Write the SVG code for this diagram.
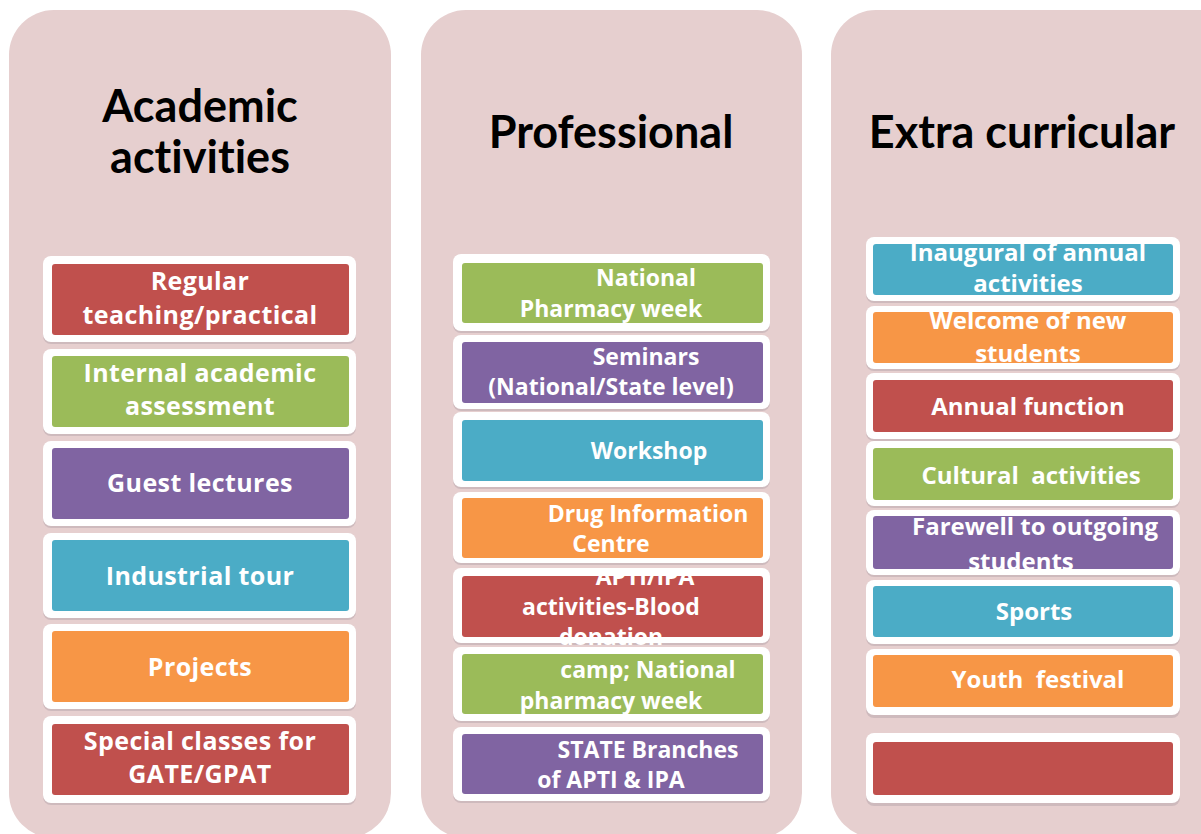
<svg xmlns="http://www.w3.org/2000/svg" width="1201" height="834" viewBox="0 0 1201 834">
<style>
.col{fill:#E6CFCF}
.sh{fill:#B9A9AE;opacity:0.55}
.wb{fill:#FFFFFF}
.red{fill:#C0504D}.grn{fill:#9BBB59}.pur{fill:#8064A2}.blu{fill:#4BACC6}.org{fill:#F79646}
.hd{font-family:Lato,"Open Sans",sans-serif;font-weight:bold;font-size:45px;fill:#000;text-anchor:middle;font-variant-ligatures:none}
.t{font-family:"Open Sans",Lato,sans-serif;font-weight:bold;font-size:25px;letter-spacing:0.4px;fill:#FFFFFF;text-anchor:middle}
.t2{font-family:"Open Sans",Lato,sans-serif;font-weight:bold;font-size:23px;fill:#FFFFFF;text-anchor:middle}
.t3{font-family:"Open Sans",Lato,sans-serif;font-weight:bold;font-size:24px;fill:#FFFFFF;text-anchor:middle}
</style>
<defs>
<clipPath id="cApti"><rect x="455" y="571" width="320" height="80"/></clipPath>
<clipPath id="cFare"><rect x="865" y="505" width="320" height="66"/></clipPath>
</defs>
<rect width="1201" height="834" fill="#FFFFFF"/>
<g id="col-academic">
<rect class="col" x="9" y="10" width="382" height="828" rx="45"/>
<text class="hd" x="200" y="122">Academic</text>
<text class="hd" x="200" y="173">activities</text>
</g>
<g id="col-professional">
<rect class="col" x="421" y="10" width="381" height="828" rx="45"/>
<text class="hd" x="611" y="148">Professional</text>
</g>
<g id="col-extra">
<rect class="col" x="831" y="10" width="420" height="828" rx="45"/>
<text class="hd" x="1022" y="148">Extra curricular</text>
</g>

<g id="a1"><rect class="sh" x="43" y="259" width="313" height="85" rx="8"/><rect class="wb" x="43" y="256" width="313" height="86" rx="8"/><rect class="red" x="52" y="264" width="297" height="71" rx="3"/>
<text class="t" x="200" y="290">Regular</text><text class="t" x="200" y="324">teaching/practical</text></g>
<g id="a2"><rect class="sh" x="43" y="351" width="313" height="85" rx="8"/><rect class="wb" x="43" y="349" width="313" height="85" rx="8"/><rect class="grn" x="52" y="356" width="297" height="71" rx="3"/>
<text class="t" x="200" y="382">Internal academic</text><text class="t" x="200" y="415">assessment</text></g>
<g id="a3"><rect class="sh" x="43" y="443" width="313" height="85" rx="8"/><rect class="wb" x="43" y="441" width="313" height="85" rx="8"/><rect class="pur" x="52" y="448" width="297" height="71" rx="3"/>
<text class="t" x="200" y="492">Guest lectures</text></g>
<g id="a4"><rect class="sh" x="43" y="535" width="313" height="85" rx="8"/><rect class="wb" x="43" y="533" width="313" height="85" rx="8"/><rect class="blu" x="52" y="540" width="297" height="71" rx="3"/>
<text class="t" x="200" y="585">Industrial tour</text></g>
<g id="a5"><rect class="sh" x="43" y="626" width="313" height="85" rx="8"/><rect class="wb" x="43" y="624" width="313" height="85" rx="8"/><rect class="org" x="52" y="631" width="297" height="71" rx="3"/>
<text class="t" x="200" y="676">Projects</text></g>
<g id="a6"><rect class="sh" x="43" y="718" width="313" height="87" rx="8"/><rect class="wb" x="43" y="716" width="313" height="87" rx="8"/><rect class="red" x="52" y="724" width="297" height="71" rx="3"/>
<text class="t" x="200" y="750">Special classes for</text><text class="t" x="200" y="783">GATE/GPAT</text></g>

<g id="p1"><rect class="sh" x="453" y="256" width="317" height="77" rx="8"/><rect class="wb" x="453" y="254" width="317" height="77" rx="8"/><rect class="grn" x="462" y="263" width="301" height="60" rx="3"/>
<text class="t2" x="646" y="286">National</text><text class="t2" x="611" y="317">Pharmacy week</text></g>
<g id="p2"><rect class="sh" x="453" y="337" width="317" height="74" rx="8"/><rect class="wb" x="453" y="335" width="317" height="74" rx="8"/><rect class="pur" x="462" y="342" width="301" height="61" rx="3"/>
<text class="t2" x="646" y="365">Seminars</text><text class="t2" x="611" y="395">(National/State level)</text></g>
<g id="p3"><rect class="sh" x="453" y="414" width="317" height="75" rx="8"/><rect class="wb" x="453" y="412" width="317" height="75" rx="8"/><rect class="blu" x="462" y="420" width="301" height="61" rx="3"/>
<text class="t2" x="649" y="459">Workshop</text></g>
<g id="p4"><rect class="sh" x="453" y="494" width="317" height="71" rx="8"/><rect class="wb" x="453" y="492" width="317" height="71" rx="8"/><rect class="org" x="462" y="498" width="301" height="60" rx="3"/>
<text class="t2" x="648" y="522">Drug Information</text><text class="t2" x="611" y="552">Centre</text></g>
<g id="p5"><rect class="sh" x="453" y="570" width="317" height="75" rx="8"/><rect class="wb" x="453" y="568" width="317" height="75" rx="8"/><rect class="red" x="462" y="576" width="301" height="61" rx="3"/>
<g clip-path="url(#cApti)"><text class="t2" x="645" y="585">APTI/IPA</text><text class="t2" x="611" y="615">activities-Blood</text><text class="t2" x="611" y="645">donation</text></g></g>
<g id="p6"><rect class="sh" x="453" y="650" width="317" height="73" rx="8"/><rect class="wb" x="453" y="647" width="317" height="74" rx="8"/><rect class="grn" x="462" y="654" width="301" height="60" rx="3"/>
<text class="t2" x="648" y="678">camp; National</text><text class="t2" x="611" y="709">pharmacy week</text></g>
<g id="p7"><rect class="sh" x="453" y="729" width="317" height="74" rx="8"/><rect class="wb" x="453" y="727" width="317" height="74" rx="8"/><rect class="pur" x="462" y="734" width="301" height="60" rx="3"/>
<text class="t2" x="648" y="758">STATE Branches</text><text class="t2" x="611" y="788">of APTI &amp; IPA</text></g>

<g id="e1"><rect class="sh" x="866" y="239" width="314" height="64" rx="8"/><rect class="wb" x="866" y="237" width="314" height="64" rx="8"/><rect class="blu" x="873" y="244" width="300" height="51" rx="3"/>
<text class="t3" x="1028" y="261">Inaugural of annual</text><text class="t3" x="1028" y="292">activities</text></g>
<g id="e2"><rect class="sh" x="866" y="308" width="314" height="63" rx="8"/><rect class="wb" x="866" y="306" width="314" height="63" rx="8"/><rect class="org" x="873" y="312" width="300" height="51" rx="3"/>
<text class="t3" x="1028" y="329">Welcome of new</text><text class="t3" x="1028" y="362">students</text></g>
<g id="e3"><rect class="sh" x="866" y="375" width="314" height="66" rx="8"/><rect class="wb" x="866" y="373" width="314" height="66" rx="8"/><rect class="red" x="873" y="380" width="300" height="52" rx="3"/>
<text class="t3" x="1028" y="415">Annual function</text></g>
<g id="e4"><rect class="sh" x="866" y="443" width="314" height="65" rx="8"/><rect class="wb" x="866" y="441" width="314" height="65" rx="8"/><rect class="grn" x="873" y="448" width="300" height="52" rx="3"/>
<text class="t3" x="1031" y="484" xml:space="preserve">Cultural  activities</text></g>
<g id="e5"><rect class="sh" x="866" y="512" width="314" height="65" rx="8"/><rect class="wb" x="866" y="510" width="314" height="65" rx="8"/><rect class="pur" x="873" y="516" width="300" height="53" rx="3"/>
<g clip-path="url(#cFare)"><text class="t3" x="1035" y="535">Farewell to outgoing</text><text class="t3" x="1021" y="570">students</text></g></g>
<g id="e6"><rect class="sh" x="866" y="582" width="314" height="64" rx="8"/><rect class="wb" x="866" y="580" width="314" height="64" rx="8"/><rect class="blu" x="873" y="586" width="300" height="51" rx="3"/>
<text class="t3" x="1034" y="620">Sports</text></g>
<g id="e7"><rect class="sh" x="866" y="652" width="314" height="66" rx="8"/><rect class="wb" x="866" y="649" width="314" height="66" rx="8"/><rect class="org" x="873" y="655" width="300" height="52" rx="3"/>
<text class="t3" x="1038" y="688" xml:space="preserve">Youth  festival</text></g>
<g id="e8"><rect class="sh" x="866" y="736" width="314" height="70" rx="8"/><rect class="wb" x="866" y="733" width="314" height="70" rx="8"/><rect class="red" x="873" y="742" width="300" height="53" rx="3"/></g>
<g id="connectors"></g>
</svg>
